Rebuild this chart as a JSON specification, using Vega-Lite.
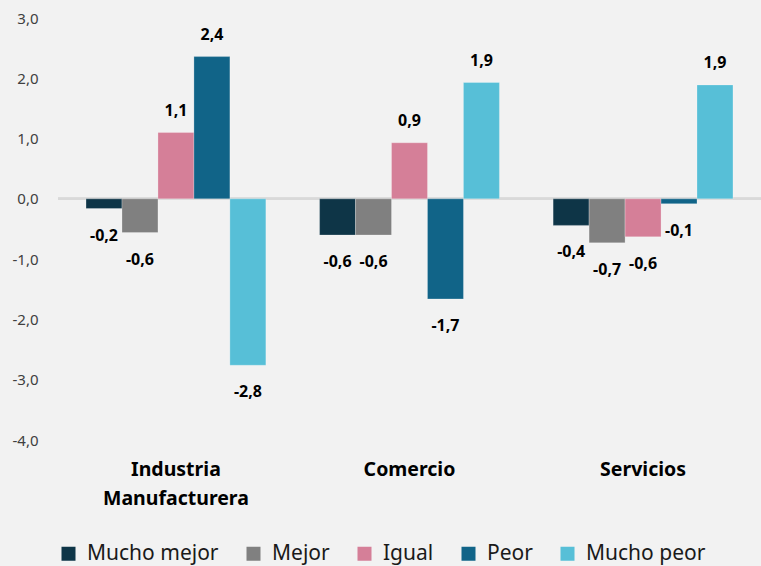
{
  "$schema": "https://vega.github.io/schema/vega-lite/v6.json",
  "width": 703,
  "height": 422,
  "autosize": {"type": "none"},
  "padding": {"left": 58, "top": 18, "right": 0, "bottom": 126},
  "background": "#f2f2f2",
  "config": {
    "view": {"stroke": null},
    "font": "Noto Sans",
    "locale": {"number": {"decimal": ",", "thousands": ".", "grouping": [3], "currency": ["", " €"], "minus": "-"}}
  },
  "data": {
    "values": [
      {"sector": "Industria Manufacturera", "resp": "Mucho mejor", "v": -0.16},
      {"sector": "Industria Manufacturera", "resp": "Mejor", "v": -0.56},
      {"sector": "Industria Manufacturera", "resp": "Igual", "v": 1.1},
      {"sector": "Industria Manufacturera", "resp": "Peor", "v": 2.36},
      {"sector": "Industria Manufacturera", "resp": "Mucho peor", "v": -2.76},
      {"sector": "Comercio", "resp": "Mucho mejor", "v": -0.6},
      {"sector": "Comercio", "resp": "Mejor", "v": -0.6},
      {"sector": "Comercio", "resp": "Igual", "v": 0.93},
      {"sector": "Comercio", "resp": "Peor", "v": -1.66},
      {"sector": "Comercio", "resp": "Mucho peor", "v": 1.93},
      {"sector": "Servicios", "resp": "Mucho mejor", "v": -0.44},
      {"sector": "Servicios", "resp": "Mejor", "v": -0.73},
      {"sector": "Servicios", "resp": "Igual", "v": -0.63},
      {"sector": "Servicios", "resp": "Peor", "v": -0.08},
      {"sector": "Servicios", "resp": "Mucho peor", "v": 1.89}
    ]
  },
  "encoding": {
    "x": {
      "field": "sector", "type": "nominal",
      "sort": ["Industria Manufacturera", "Comercio", "Servicios"],
      "scale": {"paddingInner": 0.23, "paddingOuter": 0.12},
      "axis": {
        "title": null, "domain": false, "ticks": false, "labelAngle": 0,
        "labelFontSize": 19.5, "labelFontWeight": "bold", "labelColor": "#000000",
        "labelPadding": 20, "labelLineHeight": 29,
        "labelExpr": "datum.label == 'Industria Manufacturera' ? ['Industria', 'Manufacturera'] : datum.label"
      }
    },
    "xOffset": {
      "field": "resp", "type": "nominal",
      "sort": ["Mucho mejor", "Mejor", "Igual", "Peor", "Mucho peor"],
      "scale": {"paddingInner": 0, "paddingOuter": 0}
    },
    "y": {
      "field": "v", "type": "quantitative",
      "scale": {"domain": [-4, 3], "nice": false},
      "axis": {
        "title": null, "domain": false, "ticks": false, "grid": false,
        "values": [-4, -3, -2, -1, 0, 1, 2, 3], "format": ".1f",
        "labelFontSize": 15, "labelColor": "#404040", "labelPadding": 20
      }
    }
  },
  "layer": [
    {
      "mark": {"type": "rule", "color": "#d9d9d9", "strokeWidth": 2},
      "encoding": {"y": {"datum": 0}, "x": null, "xOffset": null}
    },
    {
      "mark": {"type": "bar", "stroke": "#ffffff", "strokeOpacity": 0.35, "strokeWidth": 0.7},
      "encoding": {
        "color": {
          "field": "resp", "type": "nominal",
          "sort": ["Mucho mejor", "Mejor", "Igual", "Peor", "Mucho peor"],
          "scale": {
            "domain": ["Mucho mejor", "Mejor", "Igual", "Peor", "Mucho peor"],
            "range": ["#0e3547", "#808080", "#d57f98", "#116488", "#57bfd7"]
          },
          "legend": {
            "title": null, "orient": "bottom", "direction": "horizontal",
            "symbolType": "square", "symbolSize": 196, "symbolStrokeWidth": 0,
            "labelFontSize": 21, "labelColor": "#1a1a1a", "labelOffset": 8,
            "columnPadding": 24, "offset": 35
          }
        }
      }
    },
    {
      "transform": [{"filter": "datum.v >= 0"}],
      "mark": {"type": "text", "fontWeight": "bold", "fontSize": 16, "color": "#000000", "baseline": "middle", "dy": -22},
      "encoding": {"text": {"field": "v", "format": ".1f"}}
    },
    {
      "transform": [{"filter": "datum.v < 0"}],
      "mark": {"type": "text", "fontWeight": "bold", "fontSize": 16, "color": "#000000", "baseline": "middle", "dy": 27},
      "encoding": {"text": {"field": "v", "format": ".1f"}}
    }
  ]
}
